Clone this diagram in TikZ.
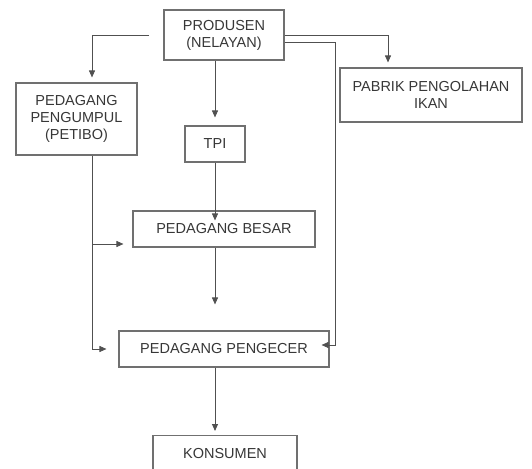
\documentclass[tikz,border=0pt]{standalone}
\usepackage{fontspec}
\setmainfont{Liberation Sans}
\usetikzlibrary{arrows.meta}

\begin{document}
\begin{tikzpicture}[x=1pt,y=-1pt,
  box/.style={draw=kotak,line width=1.1pt,align=center,text=tulisan,
    font=\fontsize{14.5}{17}\selectfont,inner sep=0pt},
  arr/.style={draw=garis,line width=0.9pt,-{Triangle[length=7pt,width=6pt]}}]

\definecolor{kotak}{RGB}{112,112,112};
\definecolor{garis}{RGB}{80,80,80};
\definecolor{tulisan}{RGB}{55,55,55};

\useasboundingbox (0,0) rectangle (532,468);

\node[box,minimum width=120pt,minimum height=50pt] (prod) at (224,35) {PRODUSEN\\(NELAYAN)};
\node[box,minimum width=121pt,minimum height=72pt] (petibo) at (76.5,119) {PEDAGANG\\PENGUMPUL\\(PETIBO)};
\node[box,minimum width=60pt,minimum height=36pt] (tpi) at (215,144) {TPI};
\node[box,minimum width=182pt,minimum height=54pt] (pabrik) at (431,95) {PABRIK PENGOLAHAN\\IKAN};
\node[box,minimum width=182pt,minimum height=36pt] (besar) at (224,229) {PEDAGANG BESAR};
\node[box,minimum width=210pt,minimum height=36pt] (ecer) at (224,349) {PEDAGANG PENGECER};
\node[box,minimum width=144pt,minimum height=36pt,anchor=north] (konsumen) at (225,435) {KONSUMEN};

\coordinate (kiri) at (149,35);
\coordinate (cabang) at (92,244);
\coordinate (kanan) at (335,345);

\draw[arr,shorten >=5pt] (kiri) -| ([xshift=15.5pt]petibo.north);
\draw[arr,shorten >=8pt] (tpi.north |- prod.south) -- (tpi.north);
\draw[arr,shorten >=5pt] (prod.east) -| ([xshift=-43pt]pabrik.north);
\draw[arr,shorten >=-8pt] ([yshift=-7pt]prod.east) -| (kanan) -- (ecer.east |- kanan);

\draw[arr,shorten >=12pt] ([xshift=15.5pt]petibo.south) |- (ecer.west);
\draw[arr,shorten >=9pt] (cabang) -- (besar.west |- cabang);

\draw[arr,shorten >=-10pt] (tpi.south) -- (tpi.south |- besar.north);
\draw[arr,shorten >=26pt] (tpi.south |- besar.south) -- (tpi.south |- ecer.north);
\draw[arr,shorten >=4pt] (tpi.south |- ecer.south) -- (tpi.south |- konsumen.north);

\end{tikzpicture}
\end{document}
